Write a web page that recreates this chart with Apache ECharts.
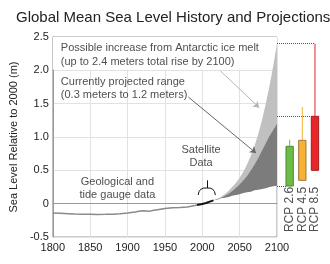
<!DOCTYPE html>
<html><head><meta charset="utf-8">
<script src="https://cdn.jsdelivr.net/npm/echarts@6/dist/echarts.min.js"></script>
<style>html,body{margin:0;padding:0;background:#fff}#c{width:330px;height:264px}</style>
</head><body><div id="c"></div>
<script>
// ---- data ----
const histYears = [1800,1810,1820,1830,1840,1850,1860,1870,1880,1890,1900,1910,1915,1920,1925,1930,1935,1940,1950,1960,1970,1980,1985,1990,1993];
const histLevel = [-0.14,-0.145,-0.15,-0.155,-0.158,-0.16,-0.162,-0.16,-0.157,-0.153,-0.14,-0.125,-0.115,-0.108,-0.11,-0.112,-0.1,-0.09,-0.072,-0.063,-0.057,-0.05,-0.04,-0.028,-0.02];
const satYears = [1993,2000,2005,2010,2015];
const satLevel = [-0.02,-0.005,0.01,0.03,0.05];
const projYears = [2015,2020,2025,2030,2035,2040,2045,2050,2055,2060,2065,2070,2075,2080,2085,2090,2095,2100];
const projLow   = [0.05,0.06,0.08,0.09,0.10,0.12,0.13,0.14,0.16,0.17,0.18,0.20,0.21,0.22,0.23,0.25,0.26,0.27];
const projHigh  = [0.05,0.07,0.09,0.12,0.15,0.19,0.24,0.29,0.35,0.42,0.50,0.59,0.69,0.80,0.91,1.02,1.11,1.20];
const antarcticHigh = [0.05,0.07,0.10,0.14,0.19,0.25,0.31,0.39,0.48,0.59,0.72,0.87,1.05,1.26,1.50,1.77,2.07,2.40];
const rcpNames = ['RCP 2.6','RCP 4.5','RCP 8.5'];
const rcpLow = [0.265,0.35,0.5];
const rcpHigh = [0.86,0.95,1.31];
const rcpWhisker = [0.96,1.45,2.4];
const xTickLabels = ['1800','1850','1900','1950','2000','2050','2100'];
const yTickLabels = ['-0.5','0','0.5','1.0','1.5','2.0','2.5'];
const annotations = [
  {text:'Possible increase from Antarctic ice melt\n(up to 2.4 meters total rise by 2100)', x:1810.7, y:2.23},
  {text:'Currently projected range\n(0.3 meters to 1.2 meters)', x:1810.7, y:1.73},
  {text:'Satellite\nData', x:1998.4, y:0.71},
  {text:'Geological and\ntide gauge data', x:1886.4, y:0.225}
];

// ---- styles ----
const rcpFill = ['#6cbd45','#f8b133','#e8262a'];
const rcpEdge = ['#4a8a2e','#9a7a45','#a51c1c'];
const FONT = 'Liberation Sans, Arial, sans-serif';
const TXT = '#222';

const chart = echarts.init(document.getElementById('c'));
const zip = (a,b) => a.map((v,i)=>[v,b[i]]);

chart.setOption({
  animation:false,
  textStyle:{fontFamily:FONT},
  title:{text:'Global Mean Sea Level History and Projections', left:11, top:5,
    textStyle:{fontSize:15, fontWeight:'normal', color:TXT, fontFamily:FONT}},
  grid:[
    {left:45, top:37, width:232, height:200, show:true, borderColor:'#9a9a9a', borderWidth:1},
    {left:277, top:37, width:44.3, height:200, show:false}
  ],
  xAxis:[
    {type:'value', gridIndex:0, min:1800, max:2100, interval:50,
     axisLine:{show:true, lineStyle:{color:'#9a9a9a'}}, axisTick:{show:false},
     splitLine:{show:true, lineStyle:{color:'#e2e2e2'}},
     axisLabel:{fontSize:11, color:TXT, margin:5, fontFamily:FONT,
       formatter:v=>{const i=Math.round((v-1800)/50); return xTickLabels[i]||'';}}},
    {type:'value', gridIndex:1, min:0, max:3.5, show:false}
  ],
  yAxis:[
    {type:'value', gridIndex:0, min:-0.5, max:2.5, interval:0.5,
     name:'Sea Level Relative to 2000 (m)', nameLocation:'middle', nameGap:26,
     nameTextStyle:{fontSize:11, color:TXT, fontFamily:FONT},
     axisLine:{show:true, lineStyle:{color:'#9a9a9a'}}, axisTick:{show:false},
     splitLine:{show:true, lineStyle:{color:'#e2e2e2'}},
     axisLabel:{fontSize:11, color:TXT, margin:4, fontFamily:FONT,
       formatter:v=>{const i=Math.round((v+0.5)/0.5); return yTickLabels[i]||'';}}},
    {type:'value', gridIndex:1, min:-0.5, max:2.5, show:false}
  ],
  series:[
    {type:'line', z:1, data:[[1800,2.2]], symbol:'none', lineStyle:{opacity:0}, silent:true,
     markArea:{silent:true, itemStyle:{color:'#ffffff'},
       data:[[{coord:[1800,2.5]},{coord:[2100,2.012]}]]}},
    {type:'custom', z:2, data:[[projYears[0], projLow[0]]], silent:true,
     renderItem:(params, api)=>{
       const band = (up, lo) => up.map((v,i)=>api.coord([projYears[i], v]))
          .concat(lo.map((v,i)=>api.coord([projYears[i], v])).reverse());
       return {type:'group', children:[
         {type:'polygon', shape:{points:band(antarcticHigh, projHigh)}, style:{fill:'#c0c0c0'}},
         {type:'polygon', shape:{points:band(projHigh, projLow)}, style:{fill:'#7c7c7c'}}
       ]};
     }},
    {type:'line', z:3, data:zip(histYears, histLevel), symbol:'none',
     lineStyle:{color:'#8a8a8a', width:1.5}},
    {type:'line', z:4, data:zip(satYears, satLevel), symbol:'none',
     lineStyle:{color:'#111', width:2}},
    {type:'lines', coordinateSystem:'cartesian2d', z:4, silent:true,
     lineStyle:{color:'#111', width:1, opacity:1},
     data:[
       {coords:[[2006,0.35],[2006,0.235]], lineStyle:{curveness:0}},
       {coords:[[2006,0.235],[1994.5,0.13]], lineStyle:{curveness:-0.5}},
       {coords:[[2006,0.235],[2017.5,0.13]], lineStyle:{curveness:0.5}}
     ]},
    {type:'lines', coordinateSystem:'cartesian2d', z:5, silent:true,
     symbol:['none','arrow'], symbolSize:6,
     lineStyle:{width:1, opacity:1},
     data:[
       {coords:[[2024.4,1.99],[2076.2,1.44]], lineStyle:{color:'#b5b5b5'}},
       {coords:[[1981.3,1.6],[2071.9,0.76]], lineStyle:{color:'#666'}}
     ]},
    {type:'scatter', z:6, symbolSize:0.01, itemStyle:{color:'rgba(0,0,0,0)'}, silent:true,
     data:annotations.map((a,i)=>({value:[a.x,a.y],
       label:{show:true, formatter:a.text, position:[0,0],
         align: i<2 ? 'left' : 'center', verticalAlign:'middle',
         fontSize:11, color:TXT, fontFamily:FONT, lineHeight: i===0 ? 14 : 13}}))},
    {type:'lines', coordinateSystem:'cartesian2d', xAxisIndex:1, yAxisIndex:1, z:3, silent:true,
     lineStyle:{color:'#555', width:1, type:[1,1], opacity:1},
     data:[
       {coords:[[0,rcpWhisker[2]],[3,rcpWhisker[2]]]},
       {coords:[[0,rcpHigh[2]],[2.71,rcpHigh[2]]]},
       {coords:[[0,rcpLow[0]],[0.71,rcpLow[0]]]}
     ]},
    {type:'custom', xAxisIndex:1, yAxisIndex:1, z:4, silent:true,
     data:rcpNames.map((n,i)=>[i+1, rcpLow[i], rcpHigh[i], rcpWhisker[i]]),
     renderItem:(params, api)=>{
       const i = params.dataIndex;
       const x = api.value(0);
       const pLow = api.coord([x, api.value(1)]);
       const pHigh = api.coord([x, api.value(2)]);
       const pW = api.coord([x, api.value(3)]);
       const w = api.size([0.58, 0])[0];
       return {type:'group', children:[
         {type:'line', shape:{x1:pW[0], y1:pW[1], x2:pHigh[0], y2:pHigh[1]},
          style:{stroke:rcpFill[i], lineWidth:1}},
         {type:'rect', shape:{x:pHigh[0]-w/2, y:pHigh[1], width:w, height:pLow[1]-pHigh[1]},
          style:{fill:rcpFill[i], stroke:rcpEdge[i], lineWidth:1}}
       ]};
     }},
    {type:'scatter', xAxisIndex:1, yAxisIndex:1, z:6, symbolSize:0.01,
     itemStyle:{color:'rgba(0,0,0,0)'}, silent:true,
     data:rcpNames.map((n,i)=>({value:[i+1,-0.426],
       label:{show:true, formatter:n, position:[0,0], rotate:90, align:'left',
         verticalAlign:'middle', fontSize:12, color:TXT, fontFamily:FONT}}))}
  ]
});
</script>
</body></html>
